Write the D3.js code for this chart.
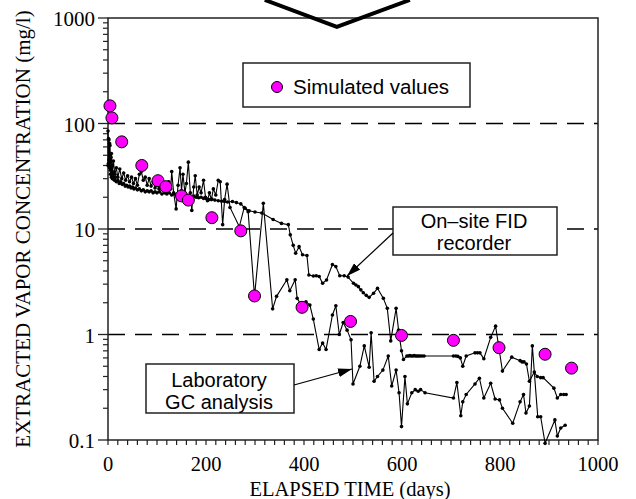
<!DOCTYPE html>
<html><head><meta charset="utf-8">
<script src="https://cdn.jsdelivr.net/npm/d3@7"></script>
<style>body{margin:0;background:#fff} svg{display:block}</style>
</head><body>
<svg id="c" width="636" height="499"></svg>
<script>
// ---- DATA (day, mg/l) ----
const fidData = [
 [0,85],[1,42],[2,70],[3,38],[4,62],[5,33],[6,48],[7,31],[8,40],[9,30],[11,34],[13,29],[15,31],[17,28],[20,29],[23,27],[26,28],[29,26.5],[32,27],[35,25.5],[38,26],[41,25],[44,25.5],[47,24.5],[50,25],[53,24],[56,24.5],[60,23.5],[64,24],[68,23],[72,23.5],[76,22.5],[80,23],[84,22.5],[88,23],[92,22],[96,22.5],[100,22],[105,22.5],[110,21.5],[115,22],[120,21.5],[125,22],[130,21],[135,21.5],[140,21],[145,21.5],[150,20.5],[155,21],[160,20.5],[165,20.5],[170,20],[175,20.5],[180,20],[185,19.8],[190,20],[195,19.5],[200,19.5],[206,19],[212,19.2],[218,18.8],[225,18.5],[232,18.3],[238,18.2],[244,18],[254,18.2],[262,17.8],[271,17.3],[280,15.7],[288,14.9],[300,14.5],[314,14.2],[337,12.3],[354,11.3],[368,11],[372,8.8],[378,7.0],[383,5.9],[390,6.8],[397,5.7],[406,5.6],[410,3.66],[419,3.59],[425,3.6],[431,3.55],[438,3.06],[446,3.29],[458,4.6],[465,4.4],[473,3.6],[482,3.6],[490,3.5],[501,3.06],[506,2.95],[511,2.84],[516,2.65],[521,2.49],[527,2.35],[533,2.25],[542,2.46],[550,2.74],[562,2.2],[570,1.77],[577,0.87],[588,1.77],[593,1.1],[599,0.70],[603,0.58],[610,0.625],[613,0.625],[616,0.63],[619,0.625],[622,0.625],[625,0.63],[628,0.625],[631,0.625],[634,0.625],[637,0.625],[641,0.625],[645,0.625],[705,0.625],[710,0.625],[714,0.62],[719,0.6],[724,0.50],[731,0.625],[749,0.67],[754,0.67],[759,0.67],[767,0.59],[781,0.94],[791,1.2],[805,0.45],[824,0.61],[841,0.565],[845,0.55],[849,0.55],[854,0.525],[860,0.36],[870,0.44],[876,0.40],[883,0.39],[888,0.39],[910,0.31],[917,0.25],[924,0.27],[930,0.27],[935,0.27]
];
const gcData = [
 [0,40],[1,72],[2,45],[3,65],[4,50],[5,36],[7,52],[9,35],[11,44],[14,33],[17,38],[20,31],[24,37],[28,30],[32,34],[36,29],[40,32],[44,28],[48,31],[52,27],[56,30],[60,26],[64,33],[68,35],[72,29],[76,31],[80,26],[84,30],[88,25.5],[92,28],[96,24.5],[100,27],[104,24],[108,26],[112,23.5],[116,26],[120,23],[124,28],[128,24],[130,35],[134,22],[139,15.5],[143,26],[147,38],[150,23],[153,33],[157,22],[160,27],[164,43],[168,22],[171,15],[175,25],[178,32],[182,21],[186,25],[190,22],[195,29],[199,20],[203,18.5],[207,22],[211,19],[215,24],[220,21],[225,29],[229,28],[234,11],[238,19],[243,26.6],[249,16],[268,10.5],[278,16],[286,14.6],[299,2.3],[317,17.5],[336,1.75],[344,2.3],[365,3.3],[371,2.6],[382,3.3],[386,2.2],[396,1.85],[404,2.04],[412,1.9],[419,1.4],[431,0.72],[438,0.83],[445,0.72],[458,1.53],[465,1.87],[472,1.0],[480,1.3],[488,1.1],[496,0.89],[500,0.34],[514,0.50],[523,0.78],[533,0.49],[537,1.04],[543,0.36],[550,0.40],[561,0.46],[572,0.625],[579,0.325],[588,0.46],[594,0.28],[599,0.134],[606,0.40],[611,0.22],[620,0.28],[627,0.30],[633,0.29],[638,0.30],[647,0.28],[705,0.25],[712,0.35],[720,0.17],[724,0.23],[731,0.27],[749,0.34],[758,0.385],[767,0.25],[781,0.345],[790,0.245],[799,0.24],[805,0.20],[826,0.144],[841,0.23],[848,0.27],[853,0.18],[860,0.21],[866,0.78],[877,0.166],[883,0.166],[892,0.093],[912,0.155],[917,0.109],[924,0.13],[933,0.138]
];
const simData = [
 [4,147],[8,113],[28,67],[69,40],[102,28.7],[118,25.2],[150,20.6],[164,18.8],[212,12.8],[271,9.6],[299,2.32],[396,1.81],[495,1.33],[599,0.98],[705,0.88],[798,0.75],[892,0.65],[946,0.48]
];
const xTickLabels = [0,200,400,600,800,1000];
const yTickLabels = [0.1,1,10,100,1000];
const gridValues = [1,10,100];
const xTitle = "ELAPSED TIME (days)";
const yTitle = "EXTRACTED VAPOR CONCENTRATION (mg/l)";
const legendLabel = "Simulated values";
const fidLabel = ["On\u2013site FID","recorder"];
const gcLabel = ["Laboratory","GC analysis"];

// ---- CHART ----
const svg = d3.select("#c");
const x = d3.scaleLinear().domain([0,1000]).range([108,598]);
const y = d3.scaleLog().domain([0.1,1000]).range([440,18]);
const serif = "'Liberation Serif','Times New Roman',serif";
const sans = "'Liberation Sans',Arial,sans-serif";

const defs = svg.append("defs");
defs.append("marker").attr("id","ah").attr("markerUnits","userSpaceOnUse")
  .attr("markerWidth",14).attr("markerHeight",9).attr("refX",14).attr("refY",4.5)
  .attr("orient","auto").append("path").attr("d","M0,0 L14,4.5 L0,9 Z").attr("fill","#000");

// gridlines
svg.selectAll("line.grid").data(gridValues).join("line").attr("class","grid")
  .attr("x1",x(0)).attr("x2",x(1000)).attr("y1",d=>y(d)).attr("y2",d=>y(d))
  .attr("stroke","#000").attr("stroke-width",1.3).attr("stroke-dasharray","17,10");

// frame
svg.append("rect").attr("x",x(0)).attr("y",y(1000)).attr("width",x(1000)-x(0)).attr("height",y(0.1)-y(1000))
  .attr("fill","none").attr("stroke","#222").attr("stroke-width",1.5);

// x ticks
const xMinor = d3.range(0,1001,20);
svg.selectAll("line.xt").data(xMinor).join("line").attr("class","xt")
  .attr("x1",d=>x(d)).attr("x2",d=>x(d)).attr("y1",y(0.1)).attr("y2",y(0.1)+5)
  .attr("stroke","#222").attr("stroke-width",1.2);
svg.selectAll("text.xl").data(xTickLabels).join("text").attr("class","xl")
  .attr("x",d=>x(d)).attr("y",471).attr("text-anchor","middle")
  .attr("font-family",serif).attr("font-size",20.5).text(d=>d);

// y ticks
const yMinor = [];
[0.1,1,10,100].forEach(dec=>{ for(let k=2;k<=9;k++) yMinor.push(dec*k); });
svg.selectAll("line.ym").data(yMinor).join("line").attr("class","ym")
  .attr("x1",x(0)-5).attr("x2",x(0)).attr("y1",d=>y(d)).attr("y2",d=>y(d))
  .attr("stroke","#222").attr("stroke-width",1.2);
svg.selectAll("line.yM").data(yTickLabels).join("line").attr("class","yM")
  .attr("x1",x(0)-10).attr("x2",x(0)).attr("y1",d=>y(d)).attr("y2",d=>y(d))
  .attr("stroke","#222").attr("stroke-width",1.3);
svg.selectAll("text.yl").data(yTickLabels).join("text").attr("class","yl")
  .attr("x",x(0)-13).attr("y",d=>y(d)+8).attr("text-anchor","end")
  .attr("font-family",serif).attr("font-size",21).text(d=>d);

// titles
svg.append("text").attr("x",350).attr("y",496).attr("text-anchor","middle")
  .attr("font-family",serif).attr("font-size",20.5).text(xTitle);
svg.append("text").attr("transform","translate(30,229) rotate(-90)").attr("text-anchor","middle")
  .attr("font-family",serif).attr("font-size",21).text(yTitle);

// lines
const line = d3.line().x(d=>x(d[0])).y(d=>y(d[1]));
[fidData, gcData].forEach(ds=>{
  svg.append("path").datum(ds).attr("d",line).attr("fill","none").attr("stroke","#000").attr("stroke-width",1.1);
  svg.append("g").selectAll("circle").data(ds).join("circle")
    .attr("cx",d=>x(d[0])).attr("cy",d=>y(d[1])).attr("r",1.8).attr("fill","#000");
});

// simulated
svg.append("g").selectAll("circle").data(simData).join("circle")
  .attr("cx",d=>x(d[0])).attr("cy",d=>y(d[1])).attr("r",6)
  .attr("fill","#ff00ff").attr("stroke","#000").attr("stroke-width",1);

// V shape at top
const vShape = [[320,1483],[467,822],[616,1483]];
svg.append("path").datum(vShape).attr("d",line).attr("fill","none").attr("stroke","#000").attr("stroke-width",4);

// legend box
svg.append("rect").attr("x",243).attr("y",63).attr("width",227).attr("height",44)
  .attr("fill","#fff").attr("stroke","#222").attr("stroke-width",1.5);
svg.append("circle").attr("cx",277).attr("cy",87).attr("r",5.5).attr("fill","#ff00ff").attr("stroke","#000");
svg.append("text").attr("x",293).attr("y",94).attr("font-family",sans).attr("font-size",20.5).text(legendLabel);

// FID label
svg.append("rect").attr("x",393).attr("y",207).attr("width",164).attr("height",48)
  .attr("fill","#fff").attr("stroke","#222").attr("stroke-width",1.5);
fidLabel.forEach((t,i)=>svg.append("text").attr("x",474).attr("y",228+i*22).attr("text-anchor","middle")
  .attr("font-family",sans).attr("font-size",20).text(t));
svg.append("line").attr("x1",393).attr("y1",233).attr("x2",347).attr("y2",276)
  .attr("stroke","#000").attr("stroke-width",1.2).attr("marker-end","url(#ah)");

// GC label
svg.append("rect").attr("x",146).attr("y",364).attr("width",148).attr("height",49)
  .attr("fill","#fff").attr("stroke","#222").attr("stroke-width",1.5);
gcLabel.forEach((t,i)=>svg.append("text").attr("x",219).attr("y",387+i*21.5).attr("text-anchor","middle")
  .attr("font-family",sans).attr("font-size",20).text(t));
svg.append("line").attr("x1",294).attr("y1",385).attr("x2",352).attr("y2",369)
  .attr("stroke","#000").attr("stroke-width",1.2).attr("marker-end","url(#ah)");
</script>
</body></html>
